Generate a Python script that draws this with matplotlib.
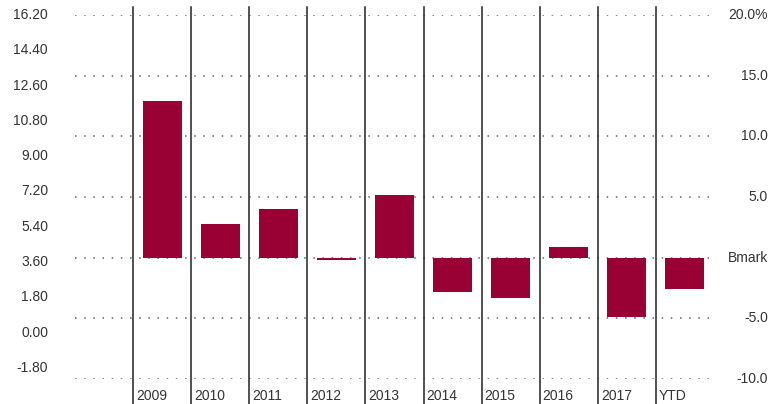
import matplotlib.pyplot as plt
import numpy as np

plt.rcParams['font.family'] = ['Liberation Sans Narrow', 'Liberation Sans', 'DejaVu Sans']

years = ["2009", "2010", "2011", "2012", "2013", "2014", "2015", "2016", "2017", "YTD"]
excess = [12.9, 2.8, 4.0, -0.2, 5.2, -2.8, -3.3, 0.9, -4.9, -2.6]  # % vs benchmark

right_ticks = [20, 15, 10, 5, 0, -5, -10]
right_labels = ["20.0%", "15.0", "10.0", "5.0", "Bmark", "-5.0", "-10.0"]
left_ticks = [16.2, 14.4, 12.6, 10.8, 9.0, 7.2, 5.4, 3.6, 1.8, 0.0, -1.8]

bar_color = "#990033"
text_color = "#333333"
fsize = 10

W, H = 782, 404
x0, x1 = 75, 714     # plot area, pixels
y0, y1 = 15, 379

fig = plt.figure(figsize=(W / 100, H / 100), dpi=100)
ax = fig.add_axes([x0 / W, (H - y1) / H, (x1 - x0) / W, (y1 - y0) / H])

x = np.arange(len(years))
ax.bar(x, excess, width=0.67, color=bar_color, zorder=2)

ax.set_xlim(-1.5, len(years) - 0.5)
ax.set_ylim(-10, 20)
ax.set_xticks([])
ax.set_yticks([])
for s in ax.spines.values():
    s.set_visible(False)

# dotted horizontal grid + right-hand labels
ytr = ax.get_yaxis_transform()
for t, lab in zip(right_ticks, right_labels):
    ax.axhline(t, color="#666666", lw=1.1, ls=(0, (1, 5)), zorder=1)
    ax.text((768 - x0) / (x1 - x0), t, lab, transform=ytr, ha="right", va="center",
            fontsize=fsize, color=text_color, clip_on=False)

# category separators running past the plot area
ph = y1 - y0
for i in range(len(years)):
    ax.axvline(i - 0.5, ymin=-(H - y1) / ph, ymax=1 + 8 / ph, color="#222222",
               lw=1.1, clip_on=False, zorder=3)
    ax.text(i - 0.5 + 3 / 58, -10 - 17 / 12.13, years[i], ha="left", va="center",
            fontsize=fsize, color=text_color, clip_on=False)

# left-hand scale
axl = ax.twinx()
axl.set_ylim(16.2 - ph / 19.6, 16.2)
axl.set_yticks([])
for s in axl.spines.values():
    s.set_visible(False)
ltr = axl.get_yaxis_transform()
for v in left_ticks:
    axl.text((48 - x0) / (x1 - x0), v, "%.2f" % v, transform=ltr, ha="right",
             va="center", fontsize=fsize, color=text_color, clip_on=False)

fig.savefig("out.png", dpi=100)
